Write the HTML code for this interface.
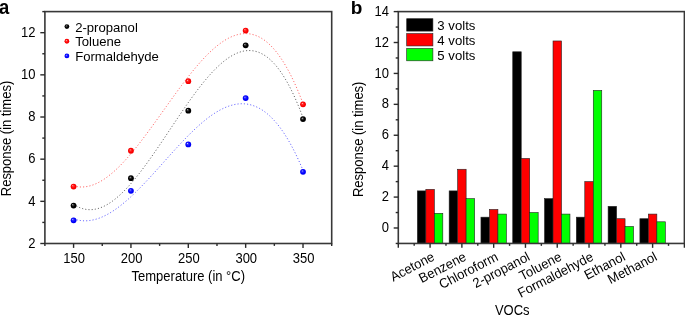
<!DOCTYPE html>
<html><head><meta charset="utf-8"><style>
html,body{margin:0;padding:0;background:#fff;overflow:hidden;}
svg{display:block;will-change:transform;}
text{font-family:"Liberation Sans",sans-serif;fill:#000;}
</style></head><body>
<svg width="685" height="315" viewBox="0 0 685 315">
<defs>
<radialGradient id="gblack" cx="0.5" cy="0.5" r="0.5" fx="0.35" fy="0.33"><stop offset="0" stop-color="#eee"/><stop offset="0.22" stop-color="#444"/><stop offset="0.6" stop-color="#000"/><stop offset="1" stop-color="#000"/></radialGradient>
<radialGradient id="gred" cx="0.5" cy="0.5" r="0.5" fx="0.35" fy="0.33"><stop offset="0" stop-color="#fdd"/><stop offset="0.25" stop-color="#f33"/><stop offset="0.7" stop-color="#f00"/><stop offset="1" stop-color="#e00"/></radialGradient>
<radialGradient id="gblue" cx="0.5" cy="0.5" r="0.5" fx="0.35" fy="0.33"><stop offset="0" stop-color="#ddf"/><stop offset="0.25" stop-color="#33f"/><stop offset="0.7" stop-color="#00f"/><stop offset="1" stop-color="#00e"/></radialGradient>
</defs>
<rect width="685" height="315" fill="#fff"/>
<path d="M73.58,204.20 L74.73,204.96 L75.87,205.66 L77.02,206.30 L78.17,206.88 L79.32,207.41 L80.46,207.87 L81.61,208.29 L82.76,208.65 L83.90,208.95 L85.05,209.20 L86.20,209.40 L87.35,209.55 L88.49,209.64 L89.64,209.69 L90.79,209.68 L91.94,209.62 L93.08,209.52 L94.23,209.37 L95.38,209.17 L96.52,208.93 L97.67,208.64 L98.82,208.30 L99.97,207.92 L101.11,207.50 L102.26,207.03 L103.41,206.52 L104.55,205.97 L105.70,205.38 L106.85,204.75 L108.00,204.08 L109.14,203.38 L110.29,202.63 L111.44,201.85 L112.58,201.03 L113.73,200.17 L114.88,199.28 L116.03,198.36 L117.17,197.40 L118.32,196.41 L119.47,195.39 L120.62,194.34 L121.76,193.25 L122.91,192.14 L124.06,191.00 L125.20,189.83 L126.35,188.63 L127.50,187.40 L128.65,186.15 L129.79,184.87 L130.94,183.57 L132.09,182.24 L133.23,180.89 L134.38,179.52 L135.53,178.12 L136.68,176.70 L137.82,175.27 L138.97,173.81 L140.12,172.33 L141.26,170.84 L142.41,169.33 L143.56,167.80 L144.71,166.25 L145.85,164.69 L147.00,163.12 L148.15,161.53 L149.30,159.92 L150.44,158.31 L151.59,156.68 L152.74,155.04 L153.88,153.39 L155.03,151.73 L156.18,150.06 L157.33,148.38 L158.47,146.70 L159.62,145.01 L160.77,143.31 L161.91,141.61 L163.06,139.90 L164.21,138.19 L165.36,136.47 L166.50,134.75 L167.65,133.03 L168.80,131.31 L169.94,129.59 L171.09,127.87 L172.24,126.15 L173.39,124.43 L174.53,122.71 L175.68,121.00 L176.83,119.29 L177.98,117.58 L179.12,115.88 L180.27,114.19 L181.42,112.50 L182.56,110.82 L183.71,109.15 L184.86,107.48 L186.01,105.83 L187.15,104.19 L188.30,102.55 L189.45,100.93 L190.59,99.32 L191.74,97.73 L192.89,96.15 L194.04,94.58 L195.18,93.03 L196.33,91.49 L197.48,89.97 L198.62,88.47 L199.77,86.99 L200.92,85.52 L202.07,84.08 L203.21,82.65 L204.36,81.25 L205.51,79.87 L206.66,78.51 L207.80,77.17 L208.95,75.86 L210.10,74.57 L211.24,73.31 L212.39,72.07 L213.54,70.86 L214.69,69.68 L215.83,68.53 L216.98,67.40 L218.13,66.31 L219.27,65.24 L220.42,64.21 L221.57,63.20 L222.72,62.23 L223.86,61.30 L225.01,60.39 L226.16,59.52 L227.30,58.69 L228.45,57.89 L229.60,57.13 L230.75,56.41 L231.89,55.73 L233.04,55.08 L234.19,54.47 L235.34,53.91 L236.48,53.38 L237.63,52.90 L238.78,52.46 L239.92,52.06 L241.07,51.71 L242.22,51.40 L243.37,51.14 L244.51,50.92 L245.66,50.75 L246.81,50.63 L247.95,50.55 L249.10,50.53 L250.25,50.55 L251.40,50.63 L252.54,50.75 L253.69,50.93 L254.84,51.16 L255.98,51.44 L257.13,51.78 L258.28,52.17 L259.43,52.62 L260.57,53.12 L261.72,53.69 L262.87,54.30 L264.02,54.98 L265.16,55.71 L266.31,56.51 L267.46,57.36 L268.60,58.28 L269.75,59.26 L270.90,60.30 L272.05,61.40 L273.19,62.57 L274.34,63.81 L275.49,65.10 L276.63,66.47 L277.78,67.90 L278.93,69.40 L280.08,70.97 L281.22,72.60 L282.37,74.31 L283.52,76.09 L284.66,77.93 L285.81,79.85 L286.96,81.85 L288.11,83.91 L289.25,86.05 L290.40,88.26 L291.55,90.55 L292.70,92.92 L293.84,95.36 L294.99,97.88 L296.14,100.48 L297.28,103.16 L298.43,105.92 L299.58,108.76 L300.73,111.68 L301.87,114.68 L303.02,117.76" fill="none" stroke="#000" stroke-width="0.9" stroke-dasharray="1.1 2.1" opacity="0.7"/>
<path d="M73.58,185.83 L74.73,186.14 L75.87,186.40 L77.02,186.61 L78.17,186.78 L79.32,186.90 L80.46,186.97 L81.61,187.00 L82.76,186.98 L83.90,186.92 L85.05,186.81 L86.20,186.66 L87.35,186.46 L88.49,186.23 L89.64,185.95 L90.79,185.64 L91.94,185.28 L93.08,184.88 L94.23,184.44 L95.38,183.97 L96.52,183.46 L97.67,182.91 L98.82,182.33 L99.97,181.70 L101.11,181.05 L102.26,180.36 L103.41,179.63 L104.55,178.88 L105.70,178.09 L106.85,177.26 L108.00,176.41 L109.14,175.53 L110.29,174.61 L111.44,173.67 L112.58,172.70 L113.73,171.70 L114.88,170.67 L116.03,169.62 L117.17,168.54 L118.32,167.43 L119.47,166.30 L120.62,165.14 L121.76,163.96 L122.91,162.76 L124.06,161.54 L125.20,160.29 L126.35,159.02 L127.50,157.73 L128.65,156.43 L129.79,155.10 L130.94,153.75 L132.09,152.39 L133.23,151.01 L134.38,149.61 L135.53,148.19 L136.68,146.76 L137.82,145.32 L138.97,143.86 L140.12,142.39 L141.26,140.90 L142.41,139.40 L143.56,137.89 L144.71,136.37 L145.85,134.84 L147.00,133.30 L148.15,131.75 L149.30,130.19 L150.44,128.63 L151.59,127.05 L152.74,125.47 L153.88,123.89 L155.03,122.30 L156.18,120.70 L157.33,119.10 L158.47,117.50 L159.62,115.89 L160.77,114.28 L161.91,112.67 L163.06,111.06 L164.21,109.45 L165.36,107.84 L166.50,106.23 L167.65,104.62 L168.80,103.01 L169.94,101.41 L171.09,99.81 L172.24,98.21 L173.39,96.62 L174.53,95.03 L175.68,93.45 L176.83,91.88 L177.98,90.31 L179.12,88.76 L180.27,87.21 L181.42,85.67 L182.56,84.14 L183.71,82.62 L184.86,81.11 L186.01,79.61 L187.15,78.12 L188.30,76.65 L189.45,75.19 L190.59,73.75 L191.74,72.32 L192.89,70.91 L194.04,69.51 L195.18,68.13 L196.33,66.77 L197.48,65.42 L198.62,64.09 L199.77,62.79 L200.92,61.50 L202.07,60.23 L203.21,58.99 L204.36,57.76 L205.51,56.56 L206.66,55.38 L207.80,54.23 L208.95,53.10 L210.10,51.99 L211.24,50.91 L212.39,49.86 L213.54,48.84 L214.69,47.84 L215.83,46.87 L216.98,45.92 L218.13,45.01 L219.27,44.13 L220.42,43.28 L221.57,42.46 L222.72,41.67 L223.86,40.91 L225.01,40.19 L226.16,39.50 L227.30,38.85 L228.45,38.23 L229.60,37.64 L230.75,37.10 L231.89,36.59 L233.04,36.12 L234.19,35.68 L235.34,35.29 L236.48,34.93 L237.63,34.62 L238.78,34.34 L239.92,34.11 L241.07,33.92 L242.22,33.77 L243.37,33.66 L244.51,33.60 L245.66,33.59 L246.81,33.61 L247.95,33.69 L249.10,33.81 L250.25,33.98 L251.40,34.19 L252.54,34.46 L253.69,34.77 L254.84,35.14 L255.98,35.55 L257.13,36.01 L258.28,36.53 L259.43,37.10 L260.57,37.72 L261.72,38.39 L262.87,39.12 L264.02,39.90 L265.16,40.74 L266.31,41.64 L267.46,42.59 L268.60,43.60 L269.75,44.66 L270.90,45.79 L272.05,46.97 L273.19,48.21 L274.34,49.52 L275.49,50.88 L276.63,52.31 L277.78,53.80 L278.93,55.35 L280.08,56.97 L281.22,58.65 L282.37,60.39 L283.52,62.20 L284.66,64.08 L285.81,66.02 L286.96,68.03 L288.11,70.11 L289.25,72.26 L290.40,74.47 L291.55,76.76 L292.70,79.12 L293.84,81.55 L294.99,84.05 L296.14,86.62 L297.28,89.26 L298.43,91.98 L299.58,94.77 L300.73,97.64 L301.87,100.59 L303.02,103.61" fill="none" stroke="#f00" stroke-width="0.9" stroke-dasharray="1.1 2.1" opacity="0.7"/>
<path d="M73.58,218.83 L74.73,219.22 L75.87,219.56 L77.02,219.86 L78.17,220.11 L79.32,220.33 L80.46,220.50 L81.61,220.64 L82.76,220.74 L83.90,220.80 L85.05,220.82 L86.20,220.80 L87.35,220.74 L88.49,220.65 L89.64,220.53 L90.79,220.37 L91.94,220.17 L93.08,219.94 L94.23,219.67 L95.38,219.38 L96.52,219.05 L97.67,218.68 L98.82,218.29 L99.97,217.86 L101.11,217.41 L102.26,216.92 L103.41,216.41 L104.55,215.87 L105.70,215.29 L106.85,214.70 L108.00,214.07 L109.14,213.42 L110.29,212.74 L111.44,212.03 L112.58,211.31 L113.73,210.55 L114.88,209.77 L116.03,208.97 L117.17,208.15 L118.32,207.31 L119.47,206.44 L120.62,205.55 L121.76,204.64 L122.91,203.71 L124.06,202.76 L125.20,201.80 L126.35,200.81 L127.50,199.81 L128.65,198.79 L129.79,197.75 L130.94,196.70 L132.09,195.63 L133.23,194.55 L134.38,193.45 L135.53,192.33 L136.68,191.21 L137.82,190.07 L138.97,188.92 L140.12,187.76 L141.26,186.58 L142.41,185.40 L143.56,184.20 L144.71,183.00 L145.85,181.79 L147.00,180.56 L148.15,179.33 L149.30,178.10 L150.44,176.85 L151.59,175.60 L152.74,174.35 L153.88,173.09 L155.03,171.82 L156.18,170.55 L157.33,169.28 L158.47,168.00 L159.62,166.72 L160.77,165.44 L161.91,164.16 L163.06,162.88 L164.21,161.59 L165.36,160.31 L166.50,159.03 L167.65,157.75 L168.80,156.47 L169.94,155.19 L171.09,153.92 L172.24,152.65 L173.39,151.39 L174.53,150.13 L175.68,148.87 L176.83,147.62 L177.98,146.38 L179.12,145.14 L180.27,143.91 L181.42,142.69 L182.56,141.48 L183.71,140.27 L184.86,139.08 L186.01,137.90 L187.15,136.72 L188.30,135.56 L189.45,134.41 L190.59,133.27 L191.74,132.15 L192.89,131.04 L194.04,129.94 L195.18,128.86 L196.33,127.79 L197.48,126.74 L198.62,125.70 L199.77,124.68 L200.92,123.68 L202.07,122.70 L203.21,121.73 L204.36,120.78 L205.51,119.86 L206.66,118.95 L207.80,118.06 L208.95,117.20 L210.10,116.35 L211.24,115.53 L212.39,114.73 L213.54,113.96 L214.69,113.21 L215.83,112.48 L216.98,111.78 L218.13,111.10 L219.27,110.45 L220.42,109.83 L221.57,109.23 L222.72,108.66 L223.86,108.12 L225.01,107.61 L226.16,107.12 L227.30,106.67 L228.45,106.25 L229.60,105.86 L230.75,105.50 L231.89,105.17 L233.04,104.88 L234.19,104.61 L235.34,104.38 L236.48,104.19 L237.63,104.03 L238.78,103.91 L239.92,103.82 L241.07,103.77 L242.22,103.75 L243.37,103.78 L244.51,103.84 L245.66,103.94 L246.81,104.08 L247.95,104.26 L249.10,104.48 L250.25,104.74 L251.40,105.04 L252.54,105.38 L253.69,105.77 L254.84,106.20 L255.98,106.67 L257.13,107.18 L258.28,107.75 L259.43,108.35 L260.57,109.01 L261.72,109.70 L262.87,110.45 L264.02,111.24 L265.16,112.08 L266.31,112.97 L267.46,113.91 L268.60,114.90 L269.75,115.94 L270.90,117.03 L272.05,118.17 L273.19,119.36 L274.34,120.61 L275.49,121.90 L276.63,123.25 L277.78,124.66 L278.93,126.12 L280.08,127.63 L281.22,129.20 L282.37,130.83 L283.52,132.51 L284.66,134.26 L285.81,136.05 L286.96,137.91 L288.11,139.83 L289.25,141.80 L290.40,143.84 L291.55,145.93 L292.70,148.09 L293.84,150.31 L294.99,152.59 L296.14,154.93 L297.28,157.34 L298.43,159.81 L299.58,162.35 L300.73,164.95 L301.87,167.61 L303.02,170.35" fill="none" stroke="#00f" stroke-width="0.9" stroke-dasharray="1.1 2.1" opacity="0.7"/>
<circle cx="73.58" cy="205.55" r="2.9" fill="url(#gblack)"/>
<circle cx="130.94" cy="178.15" r="2.9" fill="url(#gblack)"/>
<circle cx="188.30" cy="110.68" r="2.9" fill="url(#gblack)"/>
<circle cx="245.66" cy="45.33" r="2.9" fill="url(#gblack)"/>
<circle cx="303.02" cy="119.12" r="2.9" fill="url(#gblack)"/>
<circle cx="73.58" cy="186.58" r="2.9" fill="url(#gred)"/>
<circle cx="130.94" cy="150.74" r="2.9" fill="url(#gred)"/>
<circle cx="188.30" cy="81.17" r="2.9" fill="url(#gred)"/>
<circle cx="245.66" cy="30.57" r="2.9" fill="url(#gred)"/>
<circle cx="303.02" cy="104.36" r="2.9" fill="url(#gred)"/>
<circle cx="73.58" cy="220.31" r="2.9" fill="url(#gblue)"/>
<circle cx="130.94" cy="190.80" r="2.9" fill="url(#gblue)"/>
<circle cx="188.30" cy="144.42" r="2.9" fill="url(#gblue)"/>
<circle cx="245.66" cy="98.04" r="2.9" fill="url(#gblue)"/>
<circle cx="303.02" cy="171.82" r="2.9" fill="url(#gblue)"/>
<rect x="44.9" y="11.6" width="286.80" height="231.90" fill="none" stroke="#383838" stroke-width="1.6"/>
<line x1="44.90" y1="243.5" x2="44.90" y2="245.9" stroke="#2a2a2a" stroke-width="1.4"/>
<line x1="73.58" y1="243.5" x2="73.58" y2="247.9" stroke="#2a2a2a" stroke-width="1.4"/>
<text transform="translate(74.18,263.00) scale(1.0,1.06)" text-anchor="middle" font-size="13">150</text>
<line x1="102.26" y1="243.5" x2="102.26" y2="245.9" stroke="#2a2a2a" stroke-width="1.4"/>
<line x1="130.94" y1="243.5" x2="130.94" y2="247.9" stroke="#2a2a2a" stroke-width="1.4"/>
<text transform="translate(131.54,263.00) scale(1.0,1.06)" text-anchor="middle" font-size="13">200</text>
<line x1="159.62" y1="243.5" x2="159.62" y2="245.9" stroke="#2a2a2a" stroke-width="1.4"/>
<line x1="188.30" y1="243.5" x2="188.30" y2="247.9" stroke="#2a2a2a" stroke-width="1.4"/>
<text transform="translate(188.90,263.00) scale(1.0,1.06)" text-anchor="middle" font-size="13">250</text>
<line x1="216.98" y1="243.5" x2="216.98" y2="245.9" stroke="#2a2a2a" stroke-width="1.4"/>
<line x1="245.66" y1="243.5" x2="245.66" y2="247.9" stroke="#2a2a2a" stroke-width="1.4"/>
<text transform="translate(246.26,263.00) scale(1.0,1.06)" text-anchor="middle" font-size="13">300</text>
<line x1="274.34" y1="243.5" x2="274.34" y2="245.9" stroke="#2a2a2a" stroke-width="1.4"/>
<line x1="303.02" y1="243.5" x2="303.02" y2="247.9" stroke="#2a2a2a" stroke-width="1.4"/>
<text transform="translate(303.62,263.00) scale(1.0,1.06)" text-anchor="middle" font-size="13">350</text>
<line x1="331.70" y1="243.5" x2="331.70" y2="245.9" stroke="#2a2a2a" stroke-width="1.4"/>
<line x1="40.30" y1="243.50" x2="44.9" y2="243.50" stroke="#2a2a2a" stroke-width="1.4"/>
<text transform="translate(35.50,247.70) scale(1.0,1.06)" text-anchor="end" font-size="13">2</text>
<line x1="42.30" y1="222.42" x2="44.9" y2="222.42" stroke="#2a2a2a" stroke-width="1.4"/>
<line x1="40.30" y1="201.34" x2="44.9" y2="201.34" stroke="#2a2a2a" stroke-width="1.4"/>
<text transform="translate(35.50,205.54) scale(1.0,1.06)" text-anchor="end" font-size="13">4</text>
<line x1="42.30" y1="180.25" x2="44.9" y2="180.25" stroke="#2a2a2a" stroke-width="1.4"/>
<line x1="40.30" y1="159.17" x2="44.9" y2="159.17" stroke="#2a2a2a" stroke-width="1.4"/>
<text transform="translate(35.50,163.37) scale(1.0,1.06)" text-anchor="end" font-size="13">6</text>
<line x1="42.30" y1="138.09" x2="44.9" y2="138.09" stroke="#2a2a2a" stroke-width="1.4"/>
<line x1="40.30" y1="117.01" x2="44.9" y2="117.01" stroke="#2a2a2a" stroke-width="1.4"/>
<text transform="translate(35.50,121.21) scale(1.0,1.06)" text-anchor="end" font-size="13">8</text>
<line x1="42.30" y1="95.93" x2="44.9" y2="95.93" stroke="#2a2a2a" stroke-width="1.4"/>
<line x1="40.30" y1="74.85" x2="44.9" y2="74.85" stroke="#2a2a2a" stroke-width="1.4"/>
<text transform="translate(35.50,79.05) scale(1.0,1.06)" text-anchor="end" font-size="13">10</text>
<line x1="42.30" y1="53.76" x2="44.9" y2="53.76" stroke="#2a2a2a" stroke-width="1.4"/>
<line x1="40.30" y1="32.68" x2="44.9" y2="32.68" stroke="#2a2a2a" stroke-width="1.4"/>
<text transform="translate(35.50,36.88) scale(1.0,1.06)" text-anchor="end" font-size="13">12</text>
<line x1="42.30" y1="11.60" x2="44.9" y2="11.60" stroke="#2a2a2a" stroke-width="1.4"/>
<text transform="translate(188.30,281.00) scale(1.0,1.06)" text-anchor="middle" font-size="13">Temperature (in °C)</text>
<text transform="translate(11.20,138.50) rotate(-90) scale(1.0,1.06)" text-anchor="middle" font-size="13">Response (in times)</text>
<text transform="translate(-0.9,13.6) scale(0.97,1.07)" font-size="19" font-weight="bold">a</text>
<circle cx="66.9" cy="26.60" r="2.4" fill="url(#gblack)"/>
<text transform="translate(75.20,31.70)" font-size="13.1">2-propanol</text>
<circle cx="66.9" cy="41.25" r="2.4" fill="url(#gred)"/>
<text transform="translate(75.20,46.35)" font-size="13.1">Toluene</text>
<circle cx="66.9" cy="55.90" r="2.4" fill="url(#gblue)"/>
<text transform="translate(75.20,61.00)" font-size="13.1">Formaldehyde</text>
<rect x="417.37" y="190.90" width="8.48" height="52.55" fill="#000" stroke="#222" stroke-width="0.6"/>
<rect x="449.16" y="190.90" width="8.48" height="52.55" fill="#000" stroke="#222" stroke-width="0.6"/>
<rect x="480.95" y="217.17" width="8.48" height="26.28" fill="#000" stroke="#222" stroke-width="0.6"/>
<rect x="512.74" y="51.79" width="8.48" height="191.66" fill="#000" stroke="#222" stroke-width="0.6"/>
<rect x="544.53" y="198.63" width="8.48" height="44.82" fill="#000" stroke="#222" stroke-width="0.6"/>
<rect x="576.32" y="217.17" width="8.48" height="26.28" fill="#000" stroke="#222" stroke-width="0.6"/>
<rect x="608.11" y="206.35" width="8.48" height="37.10" fill="#000" stroke="#222" stroke-width="0.6"/>
<rect x="639.90" y="218.72" width="8.48" height="24.73" fill="#000" stroke="#222" stroke-width="0.6"/>
<rect x="425.85" y="189.35" width="8.48" height="54.10" fill="#f00" stroke="#222" stroke-width="0.6"/>
<rect x="457.64" y="169.26" width="8.48" height="74.19" fill="#f00" stroke="#222" stroke-width="0.6"/>
<rect x="489.43" y="209.45" width="8.48" height="34.00" fill="#f00" stroke="#222" stroke-width="0.6"/>
<rect x="521.22" y="158.44" width="8.48" height="85.01" fill="#f00" stroke="#222" stroke-width="0.6"/>
<rect x="553.01" y="40.97" width="8.48" height="202.48" fill="#f00" stroke="#222" stroke-width="0.6"/>
<rect x="584.79" y="181.62" width="8.48" height="61.83" fill="#f00" stroke="#222" stroke-width="0.6"/>
<rect x="616.58" y="218.72" width="8.48" height="24.73" fill="#f00" stroke="#222" stroke-width="0.6"/>
<rect x="648.37" y="214.08" width="8.48" height="29.37" fill="#f00" stroke="#222" stroke-width="0.6"/>
<rect x="434.33" y="213.31" width="8.48" height="30.14" fill="#0f0" stroke="#222" stroke-width="0.6"/>
<rect x="466.12" y="198.63" width="8.48" height="44.82" fill="#0f0" stroke="#222" stroke-width="0.6"/>
<rect x="497.91" y="214.08" width="8.48" height="29.37" fill="#0f0" stroke="#222" stroke-width="0.6"/>
<rect x="529.69" y="212.54" width="8.48" height="30.91" fill="#0f0" stroke="#222" stroke-width="0.6"/>
<rect x="561.48" y="214.08" width="8.48" height="29.37" fill="#0f0" stroke="#222" stroke-width="0.6"/>
<rect x="593.27" y="90.43" width="8.48" height="153.02" fill="#0f0" stroke="#222" stroke-width="0.6"/>
<rect x="625.06" y="226.45" width="8.48" height="17.00" fill="#0f0" stroke="#222" stroke-width="0.6"/>
<rect x="656.85" y="221.81" width="8.48" height="21.64" fill="#0f0" stroke="#222" stroke-width="0.6"/>
<rect x="398.3" y="11.6" width="286.10" height="231.85" fill="none" stroke="#383838" stroke-width="1.6"/>
<line x1="398.30" y1="243.45" x2="398.30" y2="247.85" stroke="#2a2a2a" stroke-width="1.4"/>
<line x1="414.19" y1="243.45" x2="414.19" y2="245.85" stroke="#2a2a2a" stroke-width="1.4"/>
<line x1="430.09" y1="243.45" x2="430.09" y2="247.85" stroke="#2a2a2a" stroke-width="1.4"/>
<line x1="445.98" y1="243.45" x2="445.98" y2="245.85" stroke="#2a2a2a" stroke-width="1.4"/>
<line x1="461.88" y1="243.45" x2="461.88" y2="247.85" stroke="#2a2a2a" stroke-width="1.4"/>
<line x1="477.77" y1="243.45" x2="477.77" y2="245.85" stroke="#2a2a2a" stroke-width="1.4"/>
<line x1="493.67" y1="243.45" x2="493.67" y2="247.85" stroke="#2a2a2a" stroke-width="1.4"/>
<line x1="509.56" y1="243.45" x2="509.56" y2="245.85" stroke="#2a2a2a" stroke-width="1.4"/>
<line x1="525.46" y1="243.45" x2="525.46" y2="247.85" stroke="#2a2a2a" stroke-width="1.4"/>
<line x1="541.35" y1="243.45" x2="541.35" y2="245.85" stroke="#2a2a2a" stroke-width="1.4"/>
<line x1="557.24" y1="243.45" x2="557.24" y2="247.85" stroke="#2a2a2a" stroke-width="1.4"/>
<line x1="573.14" y1="243.45" x2="573.14" y2="245.85" stroke="#2a2a2a" stroke-width="1.4"/>
<line x1="589.03" y1="243.45" x2="589.03" y2="247.85" stroke="#2a2a2a" stroke-width="1.4"/>
<line x1="604.93" y1="243.45" x2="604.93" y2="245.85" stroke="#2a2a2a" stroke-width="1.4"/>
<line x1="620.82" y1="243.45" x2="620.82" y2="247.85" stroke="#2a2a2a" stroke-width="1.4"/>
<line x1="636.72" y1="243.45" x2="636.72" y2="245.85" stroke="#2a2a2a" stroke-width="1.4"/>
<line x1="652.61" y1="243.45" x2="652.61" y2="247.85" stroke="#2a2a2a" stroke-width="1.4"/>
<line x1="668.51" y1="243.45" x2="668.51" y2="245.85" stroke="#2a2a2a" stroke-width="1.4"/>
<line x1="684.40" y1="243.45" x2="684.40" y2="247.85" stroke="#2a2a2a" stroke-width="1.4"/>
<line x1="395.70" y1="243.45" x2="398.3" y2="243.45" stroke="#2a2a2a" stroke-width="1.4"/>
<line x1="393.70" y1="227.99" x2="398.3" y2="227.99" stroke="#2a2a2a" stroke-width="1.4"/>
<text transform="translate(389.00,232.09) scale(1.0,1.06)" text-anchor="end" font-size="13">0</text>
<line x1="395.70" y1="212.54" x2="398.3" y2="212.54" stroke="#2a2a2a" stroke-width="1.4"/>
<line x1="393.70" y1="197.08" x2="398.3" y2="197.08" stroke="#2a2a2a" stroke-width="1.4"/>
<text transform="translate(389.00,201.18) scale(1.0,1.06)" text-anchor="end" font-size="13">2</text>
<line x1="395.70" y1="181.62" x2="398.3" y2="181.62" stroke="#2a2a2a" stroke-width="1.4"/>
<line x1="393.70" y1="166.17" x2="398.3" y2="166.17" stroke="#2a2a2a" stroke-width="1.4"/>
<text transform="translate(389.00,170.27) scale(1.0,1.06)" text-anchor="end" font-size="13">4</text>
<line x1="395.70" y1="150.71" x2="398.3" y2="150.71" stroke="#2a2a2a" stroke-width="1.4"/>
<line x1="393.70" y1="135.25" x2="398.3" y2="135.25" stroke="#2a2a2a" stroke-width="1.4"/>
<text transform="translate(389.00,139.35) scale(1.0,1.06)" text-anchor="end" font-size="13">6</text>
<line x1="395.70" y1="119.80" x2="398.3" y2="119.80" stroke="#2a2a2a" stroke-width="1.4"/>
<line x1="393.70" y1="104.34" x2="398.3" y2="104.34" stroke="#2a2a2a" stroke-width="1.4"/>
<text transform="translate(389.00,108.44) scale(1.0,1.06)" text-anchor="end" font-size="13">8</text>
<line x1="395.70" y1="88.88" x2="398.3" y2="88.88" stroke="#2a2a2a" stroke-width="1.4"/>
<line x1="393.70" y1="73.43" x2="398.3" y2="73.43" stroke="#2a2a2a" stroke-width="1.4"/>
<text transform="translate(389.00,77.53) scale(1.0,1.06)" text-anchor="end" font-size="13">10</text>
<line x1="395.70" y1="57.97" x2="398.3" y2="57.97" stroke="#2a2a2a" stroke-width="1.4"/>
<line x1="393.70" y1="42.51" x2="398.3" y2="42.51" stroke="#2a2a2a" stroke-width="1.4"/>
<text transform="translate(389.00,46.61) scale(1.0,1.06)" text-anchor="end" font-size="13">12</text>
<line x1="395.70" y1="27.06" x2="398.3" y2="27.06" stroke="#2a2a2a" stroke-width="1.4"/>
<line x1="393.70" y1="11.60" x2="398.3" y2="11.60" stroke="#2a2a2a" stroke-width="1.4"/>
<text transform="translate(389.00,15.70) scale(1.0,1.06)" text-anchor="end" font-size="13">14</text>
<text transform="translate(435.49,259.65) rotate(-27.5) scale(1.0,1.04)" text-anchor="end" font-size="13">Acetone</text>
<text transform="translate(467.28,259.65) rotate(-27.5) scale(1.0,1.04)" text-anchor="end" font-size="13">Benzene</text>
<text transform="translate(499.07,259.65) rotate(-27.5) scale(1.0,1.04)" text-anchor="end" font-size="13">Chloroform</text>
<text transform="translate(530.86,259.65) rotate(-27.5) scale(1.0,1.04)" text-anchor="end" font-size="13">2-propanol</text>
<text transform="translate(562.64,259.65) rotate(-27.5) scale(1.0,1.04)" text-anchor="end" font-size="13">Toluene</text>
<text transform="translate(594.43,259.65) rotate(-27.5) scale(1.0,1.04)" text-anchor="end" font-size="13">Formaldehyde</text>
<text transform="translate(626.22,259.65) rotate(-27.5) scale(1.0,1.04)" text-anchor="end" font-size="13">Ethanol</text>
<text transform="translate(658.01,259.65) rotate(-27.5) scale(1.0,1.04)" text-anchor="end" font-size="13">Methanol</text>
<text transform="translate(512.20,315.20) scale(1.0,1.06)" text-anchor="middle" font-size="13">VOCs</text>
<text transform="translate(362.80,139.30) rotate(-90) scale(1.0,1.06)" text-anchor="middle" font-size="13">Response (in times)</text>
<text x="350.8" y="13.5" font-size="19" font-weight="bold">b</text>
<rect x="406.7" y="18.70" width="26.2" height="12.4" fill="#000" stroke="#222" stroke-width="0.6"/>
<text transform="translate(437.30,29.90) scale(1.0,1.03)" font-size="13.2">3 volts</text>
<rect x="406.7" y="33.55" width="26.2" height="12.4" fill="#f00" stroke="#222" stroke-width="0.6"/>
<text transform="translate(437.30,44.75) scale(1.0,1.03)" font-size="13.2">4 volts</text>
<rect x="406.7" y="48.40" width="26.2" height="12.4" fill="#0f0" stroke="#222" stroke-width="0.6"/>
<text transform="translate(437.30,59.60) scale(1.0,1.03)" font-size="13.2">5 volts</text>
</svg>
</body></html>
